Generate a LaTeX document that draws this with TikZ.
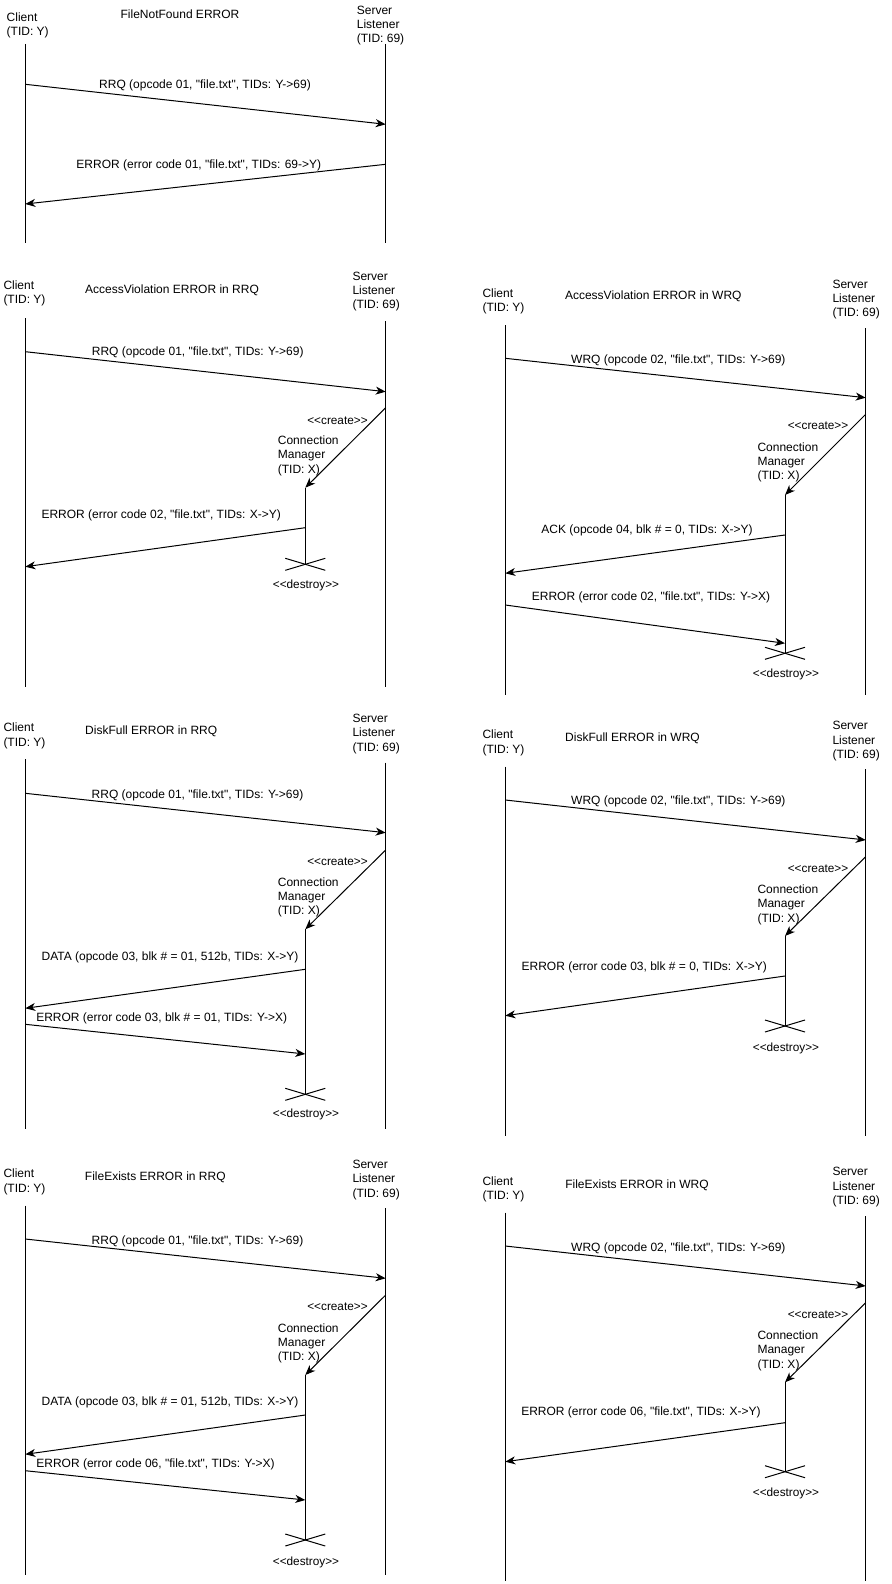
\documentclass[tikz,border=0pt]{standalone}
\usepackage{fontspec}
\newfontfamily\lib{Liberation Sans}[Ligatures=CommonOff]
\usetikzlibrary{arrows.meta}
\newcommand{\killmark}[1]{%
  \draw[lifeln] ([shift={(-20,-6)}]#1) -- ([shift={(20,6)}]#1);
  \draw[lifeln] ([shift={(-20,6)}]#1) -- ([shift={(20,-6)}]#1);}
\begin{document}
\begin{tikzpicture}[x=1pt,y=-1pt,
  lifeln/.style={line width=1pt},
  msg/.style={line width=1pt,-{Stealth[length=10pt,width=8pt,inset=3pt]}},
  txt/.style={font=\lib\fontsize{12}{14.4}\selectfont,inner sep=0pt,align=left,anchor=north west},
  lbl/.style={font=\lib\fontsize{12}{14.4}\selectfont,inner sep=0pt,anchor=base},
  sml/.style={font=\lib\fontsize{11.8}{14}\selectfont,inner sep=0pt,anchor=base},
]
\useasboundingbox[fill=white] (0,0) rectangle (891,1584);

% ---------------- Panel 1: FileNotFound ----------------
\coordinate (c1t) at (25.3,44); \coordinate (c1b) at (25.3,243.3);
\coordinate (s1t) at (385.7,44); \coordinate (s1b) at (385.7,243.3);
\draw[lifeln] (c1t) -- (c1b); \draw[lifeln] (s1t) -- (s1b);
\node[txt] (cl1) at (6.5,12.5) {Client\\(TID: Y)};
\node[lbl] (ti1) at (180,19) {FileNotFound ERROR};
\node[txt] (sv1) at (356.7,5.5) {Server\\Listener\\(TID: 69)};
\coordinate (a1s) at (25.3,84.3); \coordinate (a1e) at (385.7,124.3);
\draw[msg] (a1s) -- (a1e);
\node[lbl] (l1a) at (205,88.7) {RRQ (opcode 01, "file.txt", TIDs: Y->69)};
\coordinate (b1s) at (385.7,164.3); \coordinate (b1e) at (25.3,204);
\draw[msg] (b1s) -- (b1e);
\node[lbl] (l1b) at (198.8,168) {ERROR (error code 01, "file.txt", TIDs: 69->Y)};

% ---------------- Panel 2: AccessViolation RRQ ----------------
\coordinate (c2t) at (25.3,318.3); \coordinate (c2b) at (25.3,687);
\coordinate (s2t) at (385.7,321); \coordinate (s2b) at (385.7,687);
\draw[lifeln] (c2t) -- (c2b); \draw[lifeln] (s2t) -- (s2b);
\node[txt] (cl2) at (3.3,280.5) {Client\\(TID: Y)};
\node[lbl] (ti2) at (172,293) {AccessViolation ERROR in RRQ};
\node[txt] (sv2) at (352.3,271.5) {Server\\Listener\\(TID: 69)};
\coordinate (a2s) at (25.3,351.7); \coordinate (a2e) at (385.7,391.7);
\draw[msg] (a2s) -- (a2e);
\node[lbl] (l2a) at (197.7,355.7) {RRQ (opcode 01, "file.txt", TIDs: Y->69)};
\coordinate (cr2) at (385.7,407.7); \coordinate (k2t) at (305.3,487.7);
\coordinate (k2x) at (305.3,564.3);
\draw[msg] (cr2) -- (k2t);
\node[sml] (cc2) at (337.5,424) {<<create>>};
\node[txt] (cm2) at (277.7,435.5) {Connection\\Manager\\(TID: X)};
\draw[lifeln] (k2t) -- (k2x);
\coordinate (b2s) at (305.3,527.7); \coordinate (b2e) at (25.3,566.7);
\draw[msg] (b2s) -- (b2e);
\node[lbl] (l2b) at (161.2,518) {ERROR (error code 02, "file.txt", TIDs: X->Y)};
\killmark{k2x}
\node[sml] (dd2) at (306,588.7) {<<destroy>>};

% ---------------- Panel 3: AccessViolation WRQ ----------------
\coordinate (c3t) at (505.3,325); \coordinate (c3b) at (505.3,694.5);
\coordinate (s3t) at (865.7,328); \coordinate (s3b) at (865.7,694.5);
\draw[lifeln] (c3t) -- (c3b); \draw[lifeln] (s3t) -- (s3b);
\node[txt] (cl3) at (482.3,288.2) {Client\\(TID: Y)};
\node[lbl] (ti3) at (653.3,299.7) {AccessViolation ERROR in WRQ};
\node[txt] (sv3) at (832.3,279.5) {Server\\Listener\\(TID: 69)};
\coordinate (a3s) at (505.3,358.3); \coordinate (a3e) at (865.7,397.7);
\draw[msg] (a3s) -- (a3e);
\node[lbl] (l3a) at (678.3,363) {WRQ (opcode 02, "file.txt", TIDs: Y->69)};
\coordinate (cr3) at (865.7,414.3); \coordinate (k3t) at (785,495);
\coordinate (k3x) at (785,653.3);
\draw[msg] (cr3) -- (k3t);
\node[sml] (cc3) at (818,429.7) {<<create>>};
\node[txt] (cm3) at (757.3,442.2) {Connection\\Manager\\(TID: X)};
\draw[lifeln] (k3t) -- (k3x);
\coordinate (b3s) at (785,535); \coordinate (b3e) at (505.3,573.3);
\draw[msg] (b3s) -- (b3e);
\node[lbl] (l3b) at (647,533.3) {ACK (opcode 04, blk \# = 0, TIDs: X->Y)};
\coordinate (d3s) at (505.3,605); \coordinate (d3e) at (785,643.3);
\draw[msg] (d3s) -- (d3e);
\node[lbl] (l3c) at (651,600) {ERROR (error code 02, "file.txt", TIDs: Y->X)};
\killmark{k3x}
\node[sml] (dd3) at (786,677) {<<destroy>>};

% ---------------- Panel 4: DiskFull RRQ ----------------
\coordinate (c4t) at (25.3,759.3); \coordinate (c4b) at (25.3,1129);
\coordinate (s4t) at (385.7,762.7); \coordinate (s4b) at (385.7,1129);
\draw[lifeln] (c4t) -- (c4b); \draw[lifeln] (s4t) -- (s4b);
\node[txt] (cl4) at (3.3,722.8) {Client\\(TID: Y)};
\node[lbl] (ti4) at (151.2,734.7) {DiskFull ERROR in RRQ};
\node[txt] (sv4) at (352.3,713.8) {Server\\Listener\\(TID: 69)};
\coordinate (a4s) at (25.3,793.3); \coordinate (a4e) at (385.7,832.7);
\draw[msg] (a4s) -- (a4e);
\node[lbl] (l4a) at (197.5,798.3) {RRQ (opcode 01, "file.txt", TIDs: Y->69)};
\coordinate (cr4) at (385.7,850); \coordinate (k4t) at (305.3,929.3);
\coordinate (k4x) at (305.3,1094.3);
\draw[msg] (cr4) -- (k4t);
\node[sml] (cc4) at (337.5,865.4) {<<create>>};
\node[txt] (cm4) at (277.7,877.2) {Connection\\Manager\\(TID: X)};
\draw[lifeln] (k4t) -- (k4x);
\coordinate (b4s) at (305.3,969.3); \coordinate (b4e) at (25.3,1008.3);
\draw[msg] (b4s) -- (b4e);
\node[lbl] (l4b) at (170,960) {DATA (opcode 03, blk \# = 01, 512b, TIDs: X->Y)};
\coordinate (d4s) at (25.3,1024.3); \coordinate (d4e) at (305.3,1054);
\draw[msg] (d4s) -- (d4e);
\node[lbl] (l4c) at (161.7,1021.7) {ERROR (error code 03, blk \# = 01, TIDs: Y->X)};
\killmark{k4x}
\node[sml] (dd4) at (306,1117) {<<destroy>>};

% ---------------- Panel 5: DiskFull WRQ ----------------
\coordinate (c5t) at (505.3,766.7); \coordinate (c5b) at (505.3,1135.5);
\coordinate (s5t) at (865.7,769.3); \coordinate (s5b) at (865.7,1135.5);
\draw[lifeln] (c5t) -- (c5b); \draw[lifeln] (s5t) -- (s5b);
\node[txt] (cl5) at (482.3,729.8) {Client\\(TID: Y)};
\node[lbl] (ti5) at (632.5,741.7) {DiskFull ERROR in WRQ};
\node[txt] (sv5) at (832.3,721.2) {Server\\Listener\\(TID: 69)};
\coordinate (a5s) at (505.3,800); \coordinate (a5e) at (865.7,840);
\draw[msg] (a5s) -- (a5e);
\node[lbl] (l5a) at (678.3,804.7) {WRQ (opcode 02, "file.txt", TIDs: Y->69)};
\coordinate (cr5) at (865.7,856.7); \coordinate (k5t) at (785,936);
\coordinate (k5x) at (785,1026);
\draw[msg] (cr5) -- (k5t);
\node[sml] (cc5) at (818,872) {<<create>>};
\node[txt] (cm5) at (757.3,884.5) {Connection\\Manager\\(TID: X)};
\draw[lifeln] (k5t) -- (k5x);
\coordinate (b5s) at (785,976); \coordinate (b5e) at (505.3,1015.7);
\draw[msg] (b5s) -- (b5e);
\node[lbl] (l5b) at (644.2,970.7) {ERROR (error code 03, blk \# = 0, TIDs: X->Y)};
\killmark{k5x}
\node[sml] (dd5) at (786,1051) {<<destroy>>};

% ---------------- Panel 6: FileExists RRQ ----------------
\coordinate (c6t) at (25.3,1205.7); \coordinate (c6b) at (25.3,1575);
\coordinate (s6t) at (385.7,1208.3); \coordinate (s6b) at (385.7,1575);
\draw[lifeln] (c6t) -- (c6b); \draw[lifeln] (s6t) -- (s6b);
\node[txt] (cl6) at (3.3,1168.8) {Client\\(TID: Y)};
\node[lbl] (ti6) at (155.3,1180.7) {FileExists ERROR in RRQ};
\node[txt] (sv6) at (352.3,1159.8) {Server\\Listener\\(TID: 69)};
\coordinate (a6s) at (25.3,1239); \coordinate (a6e) at (385.7,1278.3);
\draw[msg] (a6s) -- (a6e);
\node[lbl] (l6a) at (197.5,1244) {RRQ (opcode 01, "file.txt", TIDs: Y->69)};
\coordinate (cr6) at (385.7,1295); \coordinate (k6t) at (305.3,1375);
\coordinate (k6x) at (305.3,1540);
\draw[msg] (cr6) -- (k6t);
\node[sml] (cc6) at (337.5,1310.4) {<<create>>};
\node[txt] (cm6) at (277.7,1323.2) {Connection\\Manager\\(TID: X)};
\draw[lifeln] (k6t) -- (k6x);
\coordinate (b6s) at (305.3,1415); \coordinate (b6e) at (25.3,1454.3);
\draw[msg] (b6s) -- (b6e);
\node[lbl] (l6b) at (170,1405.7) {DATA (opcode 03, blk \# = 01, 512b, TIDs: X->Y)};
\coordinate (d6s) at (25.3,1470.7); \coordinate (d6e) at (305.3,1500);
\draw[msg] (d6s) -- (d6e);
\node[lbl] (l6c) at (155.5,1467.3) {ERROR (error code 06, "file.txt", TIDs: Y->X)};
\killmark{k6x}
\node[sml] (dd6) at (306,1565.4) {<<destroy>>};

% ---------------- Panel 7: FileExists WRQ ----------------
\coordinate (c7t) at (505.3,1212.7); \coordinate (c7b) at (505.3,1581);
\coordinate (s7t) at (865.7,1216); \coordinate (s7b) at (865.7,1581);
\draw[lifeln] (c7t) -- (c7b); \draw[lifeln] (s7t) -- (s7b);
\node[txt] (cl7) at (482.3,1176.2) {Client\\(TID: Y)};
\node[lbl] (ti7) at (637,1188) {FileExists ERROR in WRQ};
\node[txt] (sv7) at (832.3,1167.2) {Server\\Listener\\(TID: 69)};
\coordinate (a7s) at (505.3,1246); \coordinate (a7e) at (865.7,1286);
\draw[msg] (a7s) -- (a7e);
\node[lbl] (l7a) at (678.3,1251.3) {WRQ (opcode 02, "file.txt", TIDs: Y->69)};
\coordinate (cr7) at (865.7,1302.7); \coordinate (k7t) at (785,1382.3);
\coordinate (k7x) at (785,1471.7);
\draw[msg] (cr7) -- (k7t);
\node[sml] (cc7) at (818,1318) {<<create>>};
\node[txt] (cm7) at (757.3,1330.5) {Connection\\Manager\\(TID: X)};
\draw[lifeln] (k7t) -- (k7x);
\coordinate (b7s) at (785,1422.7); \coordinate (b7e) at (505.3,1461.7);
\draw[msg] (b7s) -- (b7e);
\node[lbl] (l7b) at (641,1415.7) {ERROR (error code 06, "file.txt", TIDs: X->Y)};
\killmark{k7x}
\node[sml] (dd7) at (786,1496) {<<destroy>>};
\end{tikzpicture}
\end{document}
